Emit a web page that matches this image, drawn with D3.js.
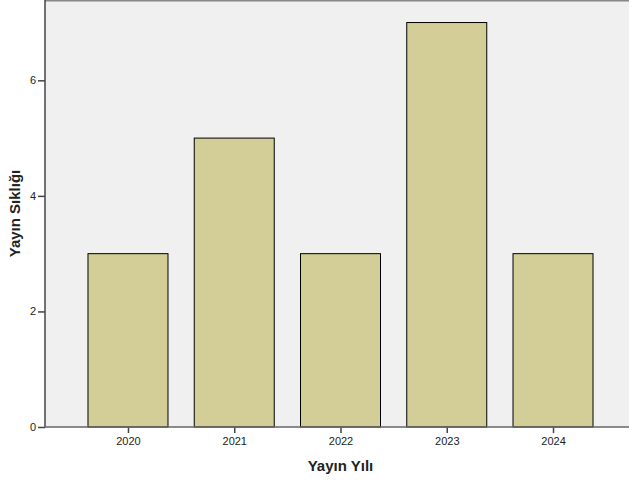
<!DOCTYPE html>
<html>
<head>
<meta charset="utf-8">
<script src="https://cdn.jsdelivr.net/npm/d3@7"></script>
<style>
  body { margin: 0; background: #fff; }
  svg { display: block; font-family: "Liberation Sans", Arial, sans-serif; }
</style>
</head>
<body>
<svg id="chart" width="629" height="481"></svg>
<script>
// chart data
const years = ["2020", "2021", "2022", "2023", "2024"];
const counts = [3, 5, 3, 7, 3];
const yTicks = [0, 2, 4, 6];

const svg = d3.select("#chart");

// plot area edges (right edge runs past the window, like the original)
const plotLeft = 45, plotRight = 636, plotTop = 0, plotBottom = 427;

const x = d3.scalePoint()
  .domain(years)
  .range([plotLeft, plotRight])
  .padding(0.781);

const y = d3.scaleLinear()
  .domain([0, 7.39])
  .range([plotBottom, plotTop]);

const barWidth = 80;

// plot background
svg.append("rect")
  .attr("x", plotLeft)
  .attr("y", plotTop)
  .attr("width", plotRight - plotLeft)
  .attr("height", plotBottom - plotTop)
  .style("fill", "#f0f0f0");

// top frame line
svg.append("line")
  .attr("x1", plotLeft).attr("x2", 629)
  .attr("y1", 0.5).attr("y2", 0.5)
  .style("stroke", "#888")
  .style("stroke-width", 2);

// bars
svg.selectAll("rect.bar")
  .data(years)
  .enter().append("rect")
  .attr("class", "bar")
  .attr("x", (d) => x(d) - barWidth / 2)
  .attr("y", (d, i) => y(counts[i]))
  .attr("width", barWidth)
  .attr("height", (d, i) => plotBottom - y(counts[i]))
  .style("fill", "#d3ce97")
  .style("stroke", "#000")
  .style("stroke-width", 1);

// y axis
const yAxis = svg.append("g")
  .attr("transform", "translate(" + plotLeft + ",0)")
  .call(d3.axisLeft(y).tickValues(yTicks).tickSize(7).tickPadding(2).tickFormat(d3.format("d")));
yAxis.select(".domain").remove();
yAxis.selectAll(".tick line").style("stroke", "#444").style("stroke-width", 1.5);
yAxis.selectAll(".tick text").style("font-size", "11px").style("fill", "#222");
yAxis.append("line")
  .attr("x1", 0).attr("x2", 0)
  .attr("y1", plotTop).attr("y2", plotBottom)
  .style("stroke", "#444").style("stroke-width", 1.5);

// x axis
const xAxis = svg.append("g")
  .attr("transform", "translate(0," + plotBottom + ")")
  .call(d3.axisBottom(x).tickSize(6).tickPadding(4));
xAxis.select(".domain").remove();
xAxis.selectAll(".tick line").style("stroke", "#444").style("stroke-width", 1.5);
xAxis.selectAll(".tick text").style("font-size", "11px").style("fill", "#222");
xAxis.append("line")
  .attr("x1", plotLeft).attr("x2", 629)
  .attr("y1", 0).attr("y2", 0)
  .style("stroke", "#666").style("stroke-width", 1.5);

// axis titles
svg.append("text")
  .attr("x", (plotLeft + plotRight) / 2)
  .attr("y", 471)
  .attr("text-anchor", "middle")
  .style("font-size", "15px")
  .style("font-weight", "bold")
  .style("fill", "#222")
  .text("Yayın Yılı");

svg.append("text")
  .attr("transform", "translate(20," + (plotTop + plotBottom) / 2 + ") rotate(-90)")
  .attr("text-anchor", "middle")
  .style("font-size", "15px")
  .style("font-weight", "bold")
  .style("fill", "#222")
  .text("Yayın Sıklığı");
</script>
</body>
</html>
